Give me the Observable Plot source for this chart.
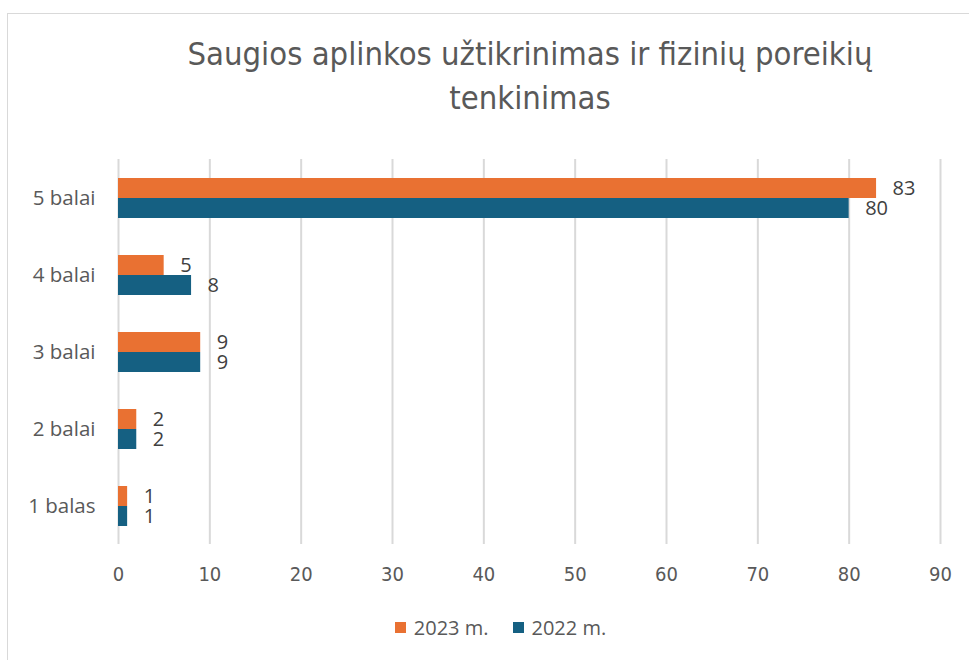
<!DOCTYPE html>
<html><head><meta charset="utf-8">
<script src="https://cdn.jsdelivr.net/npm/d3@7"></script>
<script src="https://cdn.jsdelivr.net/npm/@observablehq/plot@0.6"></script>
<style>
body{margin:0;background:#fff;}
#wrap{position:relative;width:969px;height:660px;overflow:hidden;background:#fff;}
#frame{position:absolute;left:7px;top:13px;width:1000px;height:700px;border:1.5px solid #d9d9d9;box-sizing:border-box;}
#title{position:absolute;left:91px;width:878px;top:32px;text-align:center;font-family:"Liberation Sans Narrow","DejaVu Sans Condensed",sans-serif;font-size:32.5px;line-height:44px;color:#595959;}
#chart{position:absolute;left:0;top:0;}
#legend{position:absolute;top:614px;left:0;width:969px;display:flex;justify-content:center;padding-left:32px;box-sizing:border-box;font-family:"Open Sans",sans-serif;font-size:20px;color:#595959;}
.item{display:flex;align-items:center;margin:0 12px;}
.sw{width:11px;height:11px;margin-right:8px;}
</style></head>
<body><div id="wrap"><div id="frame"></div>
<div id="title">Saugios aplinkos užtikrinimas ir fizinių poreikių<br>tenkinimas</div>
<div id="chart"></div><div id="legend"></div></div>
<script>
const categories = ["5 balai","4 balai","3 balai","2 balai","1 balas"];
const series = ["2023 m.","2022 m."];
const values2023 = [83,5,9,2,1];
const values2022 = [80,8,9,2,1];
const xTicks = [0,10,20,30,40,50,60,70,80,90];
const colors = ["#E97132","#156082"];

const data = categories.flatMap((c,i)=>[
  {cat:c, series:series[0], value:values2023[i]},
  {cat:c, series:series[1], value:values2022[i]}
]);

const chart = Plot.plot({
  width:969, height:600,
  marginTop:158, marginBottom:55, marginLeft:118, marginRight:29,
  x:{domain:[0,90]},
  fy:{domain:categories, padding:0},
  y:{domain:series, paddingInner:0, paddingOuter:0.9, axis:null},
  color:{domain:series, range:colors},
  marks:[
    Plot.ruleX(xTicks,{stroke:"#d9d9d9", strokeWidth:2}),
    Plot.barX(data,{fy:"cat", y:"series", x:"value", fill:"series"}),
    Plot.text(data,{fy:"cat", y:"series", x:"value", text:"value", textAnchor:"start", dx:16,
      fontSize:20, fontFamily:"Open Sans", fill:"#404040"}),
    Plot.axisX({ticks:xTicks, tickSize:0, tickPadding:22, fontSize:20, fontFamily:"Liberation Sans Narrow, DejaVu Sans Condensed", fill:"#595959", label:null}),
    Plot.axisFy({anchor:"left", tickSize:0, tickPadding:23, fontSize:20.5, fontFamily:"Open Sans", fill:"#595959", label:null})
  ]
});
document.getElementById("chart").appendChild(chart);

const legend = d3.select("#legend");
series.forEach((s,i)=>{
  const it = legend.append("div").attr("class","item");
  it.append("div").attr("class","sw").style("background",colors[i]);
  it.append("span").text(s);
});
</script></body></html>
